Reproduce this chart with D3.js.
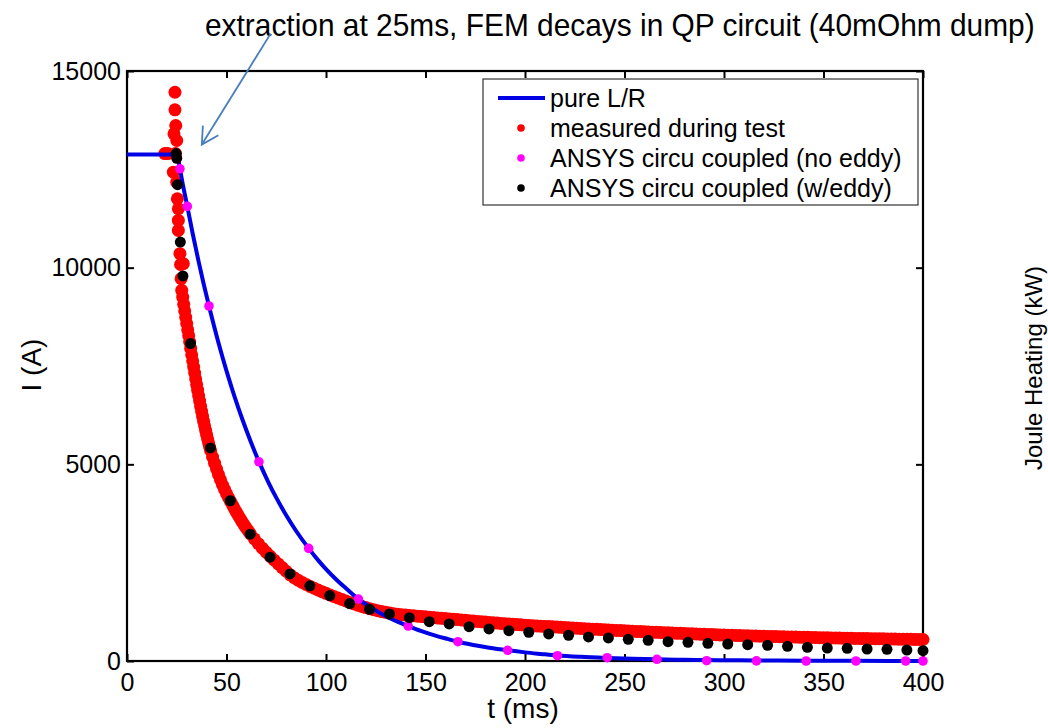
<!DOCTYPE html>
<html>
<head>
<meta charset="utf-8">
<script src="https://cdn.jsdelivr.net/npm/d3@7"></script>
<style>
  body { margin: 0; background: #fff; }
  svg { display: block; font-family: "Liberation Sans", Arial, sans-serif; }
</style>
</head>
<body>
<script>
const w = 1048;
const h = 728;

// tick values
const xTicks = [0, 50, 100, 150, 200, 250, 300, 350, 400];
const yTicks = [0, 5000, 10000, 15000];

// pure L/R curve [t (ms), I (A)]
const pureLR = [
  [0, 12880], [25, 12880], [26.6, 12514], [28, 12131], [30.3, 11557], [33, 10869],
  [36, 10153], [38.5, 9592], [41.2, 9025], [46, 8085], [50, 7375], [54, 6729],
  [58, 6139], [62, 5601], [66.3, 5068], [71, 4550], [75, 4153], [80, 3705],
  [85, 3305], [91.3, 2863], [96, 2565], [100, 2337], [105, 2079], [110, 1850],
  [116.3, 1575], [122, 1378], [128, 1197], [134, 1041], [141.3, 889], [148, 760],
  [155, 645], [161, 561], [166.3, 490], [174, 408], [182, 338], [191.3, 272],
  [200, 219], [208, 179], [216.3, 140], [228, 105], [241.3, 78], [254, 58],
  [266.3, 43], [280, 31], [291.3, 24], [304, 18], [316, 13], [341, 7], [366, 4], [400, 1]
];

// measured during test [t, I]
const measured = [
  [19, 12900], [20.5, 12900],
  [24.1, 14460], [24.1, 14013], [24.5, 13614], [23.6, 13403], [25.0, 13233], [24.4, 12900],
  [23.3, 12428], [25.0, 12174], [25.3, 11752], [25.8, 11498], [25.8, 11201], [25.8, 10947],
  [26.6, 10356], [26.9, 10080], [28.3, 10102], [27.2, 9720], [27.5, 9424],
  [28, 9250], [28.5, 9070], [29, 8900], [29.5, 8740], [30, 8580], [30.5, 8420], [31, 8270],
  [31.5, 8108], [32, 7946], [32.5, 7786], [33, 7628], [33.5, 7473], [34, 7321], [34.5, 7173],
  [35, 7028], [35.5, 6885], [36, 6745], [36.5, 6609], [37, 6476], [37.5, 6346], [38, 6219],
  [38.5, 6096], [39, 5978], [39.5, 5864], [40, 5754], [40.5, 5648], [41, 5546], [41.5, 5447],
  [42, 5351], [43, 5186], [44, 5029], [45, 4880], [46, 4738], [47, 4603], [48, 4475],
  [49, 4365], [50, 4255], [51, 4155], [52, 4060], [53, 3964], [54, 3870], [55, 3780],
  [56, 3693], [57, 3609], [58, 3528], [59, 3450], [60, 3375], [61, 3303], [62, 3234],
  [64, 3104], [66, 2982], [68, 2868], [70, 2762], [72, 2662], [74, 2564], [76, 2468],
  [78, 2374], [80, 2282], [82, 2190], [84, 2118], [86, 2054], [88, 1998], [90, 1946],
  [92, 1897], [94, 1850], [96, 1805], [98, 1762], [100, 1720], [102, 1680], [104, 1640],
  [106, 1601], [108, 1563], [110, 1526], [112, 1490], [114, 1454], [116, 1420], [118, 1388],
  [120, 1358], [122, 1329], [124, 1303], [126, 1279], [128, 1257], [130, 1237], [132, 1219],
  [134, 1203], [136, 1189], [138, 1177], [140, 1167], [142, 1158], [144, 1149], [146, 1140],
  [148, 1131], [150, 1122], [152, 1113], [154, 1104], [156, 1095], [158, 1086], [160, 1078],
  [162, 1070], [164, 1061], [166, 1052], [168, 1043], [170, 1034], [172, 1025], [174, 1016],
  [176, 1007], [178, 998], [180, 989], [182, 980], [184, 971], [186, 963], [188, 955],
  [190, 948], [192, 940], [194, 933], [196, 926], [198, 919], [200, 912], [202, 905],
  [204, 898], [206, 892], [208, 886], [210, 880], [212, 874], [214, 868], [216, 862],
  [218, 856], [220, 850], [222, 844], [224, 838], [226, 832], [228, 827], [230, 821],
  [232, 816], [234, 810], [236, 805], [238, 799], [240, 794], [242, 788], [244, 783],
  [246, 778], [248, 773], [250, 768], [252, 763], [254, 758], [256, 753], [258, 748],
  [260, 743], [262, 738], [264, 733], [266, 729], [268, 724], [270, 720], [272, 716],
  [274, 711], [276, 707], [278, 703], [280, 698], [282, 694], [284, 690], [286, 686],
  [288, 682], [290, 678], [292, 675], [294, 671], [296, 667], [298, 663], [300, 660],
  [302, 656], [304, 653], [306, 650], [308, 647], [310, 644], [312, 641], [314, 638],
  [316, 635], [318, 632], [320, 629], [322, 626], [324, 623], [326, 620], [328, 617],
  [330, 615], [332, 612], [334, 610], [336, 608], [338, 605], [340, 603], [342, 601],
  [344, 598], [346, 596], [348, 594], [350, 592], [352, 589], [354, 587], [356, 585],
  [358, 582], [360, 580], [362, 578], [364, 576], [366, 575], [368, 573], [370, 571],
  [372, 570], [374, 568], [376, 566], [378, 565], [380, 563], [382, 561], [384, 560],
  [386, 558], [388, 556], [390, 555], [392, 553], [394, 551], [396, 549], [398, 548], [400, 546]
];

// ANSYS circu coupled (no eddy)
const ansysNoEddy = [
  [26.6, 12514], [30.3, 11557], [41.2, 9025], [66.3, 5065], [91.3, 2863], [116.3, 1575],
  [141.3, 889], [166.3, 490], [191.3, 272], [216.3, 135], [241.3, 84], [266.3, 43],
  [291.3, 8], [316.3, 3], [341.3, 0], [366.3, 0], [391.3, 0], [400, 0]
];

// ANSYS circu coupled (w/eddy)
const ansysEddy = [
  [24.7, 12900], [25.0, 12780], [25.4, 12110], [26.8, 10650], [28.1, 9790], [31.9, 8070],
  [41.9, 5416], [51.9, 4074], [61.9, 3225], [71.9, 2640], [81.9, 2215], [91.9, 1910],
  [101.9, 1663], [111.9, 1459], [121.9, 1316], [131.9, 1197], [141.9, 1100], [151.9, 1001],
  [161.9, 942], [171.9, 873], [181.9, 815], [191.9, 771], [201.9, 731], [211.9, 688],
  [221.9, 655], [231.9, 611], [241.9, 586], [251.9, 552], [261.9, 527], [271.9, 490],
  [281.9, 475], [291.9, 450], [301.9, 432], [311.9, 414], [321.9, 399], [331.9, 373],
  [341.9, 348], [351.9, 330], [361.9, 323], [371.9, 305], [381.9, 297], [391.9, 279], [400, 262]
];

const legendItems = [
  { name: "pure L/R", type: "line", color: "#0000e6" },
  { name: "measured during test", type: "dot", color: "#ff0000" },
  { name: "ANSYS circu coupled (no eddy)", type: "dot", color: "#ff00ff" },
  { name: "ANSYS circu coupled (w/eddy)", type: "dot", color: "#000000" }
];

const svg = d3
  .select("body")
  .append("svg")
  .attr("width", w)
  .attr("height", h);

const x = d3.scaleLinear().domain([0, 400]).range([127, 923]);
const y = d3.scaleLinear().domain([0, 15000]).range([661, 71]);

// axes with inward ticks on all four sides
const axisFont = (g) =>
  g.call((g) => g.select(".domain").remove())
    .call((g) => g.selectAll("line").attr("stroke", "#000").attr("stroke-width", 2))
    .call((g) => g.selectAll("text").attr("font-size", 25).attr("fill", "#000")
      .attr("font-family", "Liberation Sans, Arial, sans-serif"));

svg.append("g")
  .attr("transform", `translate(0,${y(0)})`)
  .call(d3.axisBottom(x).tickValues(xTicks).tickSize(-7).tickPadding(12).tickFormat(d3.format("d")))
  .call(axisFont);
svg.append("g")
  .attr("transform", `translate(${x(0)},0)`)
  .call(d3.axisLeft(y).tickValues(yTicks).tickSize(-7).tickPadding(6).tickFormat(d3.format("d")))
  .call(axisFont);
svg.append("g")
  .attr("transform", `translate(0,${y(15000)})`)
  .call(d3.axisTop(x).tickValues(xTicks).tickSize(-7).tickFormat(""))
  .call(axisFont);
svg.append("g")
  .attr("transform", `translate(${x(400)},0)`)
  .call(d3.axisRight(y).tickValues(yTicks).tickSize(-7).tickFormat(""))
  .call(axisFont);

svg.append("rect")
  .attr("x", x(0))
  .attr("y", y(15000))
  .attr("width", x(400) - x(0))
  .attr("height", y(0) - y(15000))
  .attr("fill", "none")
  .attr("stroke", "#000")
  .attr("stroke-width", 2.2);

// scatter series
const dots = (data, color, r) =>
  svg.append("g")
    .selectAll("circle")
    .data(data)
    .enter()
    .append("circle")
    .attr("cx", (d) => x(d[0]))
    .attr("cy", (d) => y(d[1]))
    .attr("r", r)
    .attr("fill", color);

dots(measured, "#ff0000", 6.5);

// pure L/R line
const line = d3.line()
  .x((d) => x(d[0]))
  .y((d) => y(d[1]))
  .curve(d3.curveMonotoneX);

svg.append("path")
  .datum(pureLR)
  .attr("d", line)
  .attr("fill", "none")
  .attr("stroke", "#0000e6")
  .attr("stroke-width", 4);

dots(ansysNoEddy, "#ff00ff", 4.8);
dots(ansysEddy, "#000000", 5.5);

// axis labels
svg.append("text")
  .attr("x", 523)
  .attr("y", 718)
  .attr("text-anchor", "middle")
  .attr("font-size", 28)
  .text("t (ms)");

svg.append("text")
  .attr("transform", "translate(41,365) rotate(-90)")
  .attr("text-anchor", "middle")
  .attr("font-size", 28)
  .text("I (A)");

svg.append("text")
  .attr("transform", "translate(1042,368) rotate(-90)")
  .attr("text-anchor", "middle")
  .attr("font-size", 24)
  .text("Joule Heating (kW)");

// legend
const legend = svg.append("g");
legend.append("rect")
  .attr("x", 483)
  .attr("y", 79)
  .attr("width", 435)
  .attr("height", 126)
  .attr("fill", "#fff")
  .attr("stroke", "#333")
  .attr("stroke-width", 1.2);

legendItems.forEach((d, i) => {
  const cy = 98 + i * 30;
  if (d.type === "line") {
    legend.append("line")
      .attr("x1", 498).attr("x2", 545)
      .attr("y1", cy).attr("y2", cy)
      .attr("stroke", d.color)
      .attr("stroke-width", 4);
  } else {
    legend.append("circle")
      .attr("cx", 521).attr("cy", cy)
      .attr("r", 3.8)
      .attr("fill", d.color);
  }
  legend.append("text")
    .attr("x", 550)
    .attr("y", cy + 9)
    .attr("font-size", 25)
    .text(d.name);
});

// annotation: narrow the text to the reference width with a scale
const note = svg.append("text")
  .attr("x", 0)
  .attr("y", 0)
  .attr("font-size", 31)
  .text("extraction at 25ms, FEM decays in QP circuit (40mOhm dump)");
const noteW = note.node().getComputedTextLength();
note.attr("transform", `translate(205,36) scale(${830 / noteW},1)`);

const tail = [x(72.2), y(15950)];
const tip = [x(37.6), y(13130)];
const ang = Math.atan2(tip[1] - tail[1], tip[0] - tail[0]);
const arrow = svg.append("g")
  .attr("stroke", "#4a7ebb")
  .attr("stroke-width", 1.8)
  .attr("fill", "none");
arrow.append("line")
  .attr("x1", tail[0]).attr("y1", tail[1])
  .attr("x2", tip[0]).attr("y2", tip[1]);
arrow.append("path")
  .attr("d", [-0.5, 0.5].map((a) => {
    const t = ang + Math.PI + a;
    return `${tip[0] + 19 * Math.cos(t)},${tip[1] + 19 * Math.sin(t)}`;
  }).join(` L${tip[0]},${tip[1]} L`).replace(/^/, "M"));
</script>
</body>
</html>
